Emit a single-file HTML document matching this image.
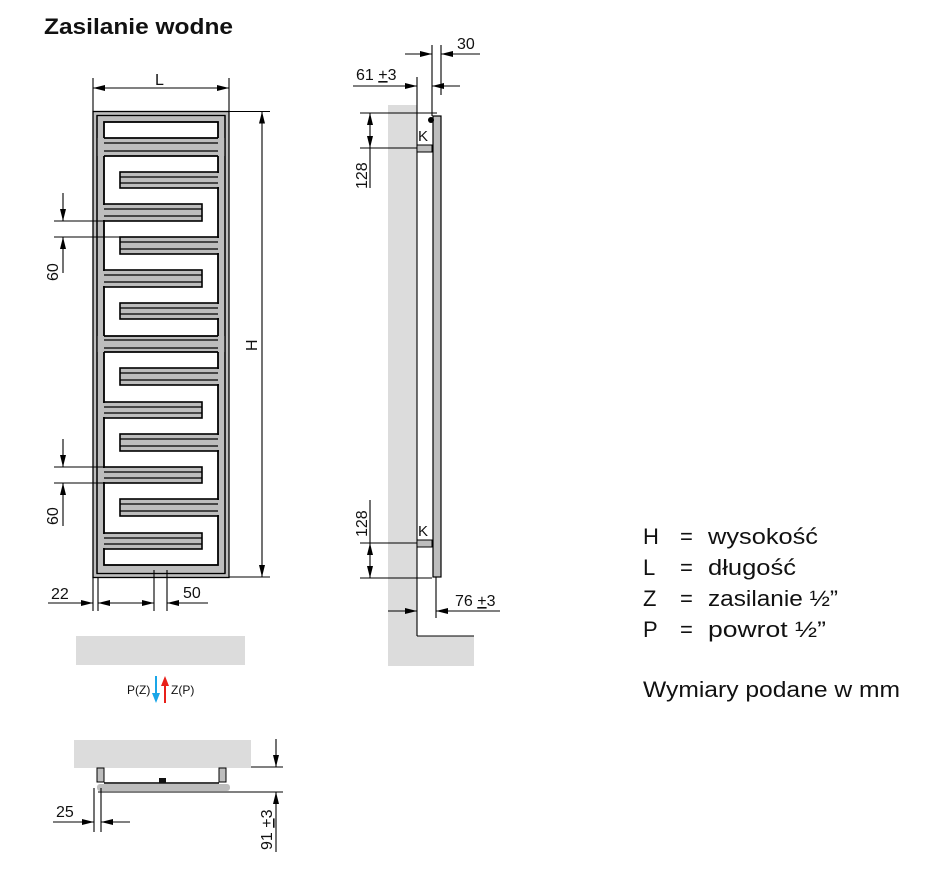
<!DOCTYPE html>
<html><head><meta charset="utf-8"><style>
body{margin:0;background:#fff;}
svg{display:block;}
text{font-family:"Liberation Sans",Arial,sans-serif;fill:#111;}
</style></head><body>
<svg width="931" height="870" viewBox="0 0 931 870" xmlns="http://www.w3.org/2000/svg">
<defs>
<marker id="a" viewBox="0 0 12 6" refX="12" refY="3" markerWidth="12" markerHeight="6" markerUnits="userSpaceOnUse" orient="auto"><path d="M0,0 L12,3 L0,6 z" fill="#000"/></marker>
</defs>
<text x="44" y="34" font-size="22" font-weight="bold" textLength="189" lengthAdjust="spacingAndGlyphs">Zasilanie wodne</text>

<g stroke="#000" stroke-width="1.3">
<rect x="93" y="111.5" width="136" height="466" fill="#bdbdbd"/>
<rect x="97" y="115.5" width="128" height="458" fill="none"/>
<rect x="104" y="122" width="114" height="443" fill="#fff" stroke-width="1.8"/>
<rect x="97" y="138" width="128" height="18" fill="#bdbdbd" stroke="none"/>
<line x1="104" y1="138" x2="218" y2="138" stroke-width="1.8"/>
<line x1="104" y1="143" x2="218" y2="143"/>
<line x1="104" y1="151" x2="218" y2="151"/>
<line x1="104" y1="156" x2="218" y2="156" stroke-width="1.8"/>
<rect x="97" y="336" width="128" height="16" fill="#bdbdbd" stroke="none"/>
<line x1="104" y1="336" x2="218" y2="336" stroke-width="1.8"/>
<line x1="104" y1="340" x2="218" y2="340"/>
<line x1="104" y1="348" x2="218" y2="348"/>
<line x1="104" y1="352" x2="218" y2="352" stroke-width="1.8"/>
<line x1="97" y1="115.5" x2="97" y2="573.5"/>
<line x1="225" y1="115.5" x2="225" y2="573.5"/>
</g>
<g stroke="#000" stroke-width="1.6" fill="#bdbdbd">
<rect x="120" y="172" width="98" height="16"/>
<rect x="120" y="237" width="98" height="17"/>
<rect x="120" y="303" width="98" height="16"/>
<rect x="120" y="368" width="98" height="17"/>
<rect x="120" y="434" width="98" height="17"/>
<rect x="120" y="499" width="98" height="17"/>
<rect x="104" y="204" width="98" height="17"/>
<rect x="104" y="270" width="98" height="17"/>
<rect x="104" y="402" width="98" height="16"/>
<rect x="104" y="467" width="98" height="16"/>
<rect x="104" y="533" width="98" height="16"/>
</g>
<g fill="#bdbdbd">
<rect x="217" y="173" width="3" height="14"/><rect x="217" y="238" width="3" height="15"/><rect x="217" y="304" width="3" height="14"/><rect x="217" y="369" width="3" height="15"/><rect x="217" y="435" width="3" height="15"/><rect x="217" y="500" width="3" height="15"/>
<rect x="102" y="205" width="3" height="15"/><rect x="102" y="271" width="3" height="15"/><rect x="102" y="403" width="3" height="14"/><rect x="102" y="468" width="3" height="14"/><rect x="102" y="534" width="3" height="14"/>
</g>
<g stroke="#000" stroke-width="1.2">
<line x1="120" y1="177" x2="218" y2="177"/><line x1="120" y1="183" x2="218" y2="183"/>
<line x1="120" y1="242" x2="218" y2="242"/><line x1="120" y1="249" x2="218" y2="249"/>
<line x1="120" y1="308" x2="218" y2="308"/><line x1="120" y1="314" x2="218" y2="314"/>
<line x1="120" y1="373" x2="218" y2="373"/><line x1="120" y1="380" x2="218" y2="380"/>
<line x1="120" y1="439" x2="218" y2="439"/><line x1="120" y1="446" x2="218" y2="446"/>
<line x1="120" y1="504" x2="218" y2="504"/><line x1="120" y1="511" x2="218" y2="511"/>
<line x1="104" y1="209" x2="202" y2="209"/><line x1="104" y1="216" x2="202" y2="216"/>
<line x1="104" y1="275" x2="202" y2="275"/><line x1="104" y1="282" x2="202" y2="282"/>
<line x1="104" y1="407" x2="202" y2="407"/><line x1="104" y1="413" x2="202" y2="413"/>
<line x1="104" y1="472" x2="202" y2="472"/><line x1="104" y1="478" x2="202" y2="478"/>
<line x1="104" y1="538" x2="202" y2="538"/><line x1="104" y1="544" x2="202" y2="544"/>
</g>

<g stroke="#000" stroke-width="1.1" fill="none">
<line x1="93" y1="78" x2="93" y2="111"/><line x1="229" y1="78" x2="229" y2="111"/>
<line x1="160" y1="88" x2="93" y2="88" marker-end="url(#a)"/><line x1="160" y1="88" x2="229" y2="88" marker-end="url(#a)"/>
<line x1="229" y1="111.5" x2="270" y2="111.5"/><line x1="229" y1="577" x2="270" y2="577"/>
<line x1="262" y1="340" x2="262" y2="111.5" marker-end="url(#a)"/><line x1="262" y1="340" x2="262" y2="577" marker-end="url(#a)"/>
<line x1="54" y1="221" x2="104" y2="221"/><line x1="54" y1="237" x2="120" y2="237"/>
<line x1="63" y1="193" x2="63" y2="221" marker-end="url(#a)"/><line x1="63" y1="273" x2="63" y2="237" marker-end="url(#a)"/>
<line x1="54" y1="467" x2="104" y2="467"/><line x1="54" y1="483" x2="104" y2="483"/>
<line x1="63" y1="439" x2="63" y2="467" marker-end="url(#a)"/><line x1="63" y1="526" x2="63" y2="483" marker-end="url(#a)"/>
<line x1="93" y1="570" x2="93" y2="611"/><line x1="98" y1="577" x2="98" y2="611"/>
<line x1="154" y1="570" x2="154" y2="611"/><line x1="167" y1="570" x2="167" y2="611"/>
<line x1="48" y1="603" x2="93" y2="603" marker-end="url(#a)"/><line x1="125" y1="603" x2="98" y2="603" marker-end="url(#a)"/>
<line x1="110" y1="603" x2="154" y2="603" marker-end="url(#a)"/><line x1="208" y1="603" x2="167" y2="603" marker-end="url(#a)"/>
</g>
<text x="155" y="85" font-size="16">L</text>
<text x="0" y="0" font-size="16" transform="translate(257,351) rotate(-90)">H</text>
<text x="0" y="0" font-size="16" transform="translate(58,281) rotate(-90)">60</text>
<text x="0" y="0" font-size="16" transform="translate(58,525) rotate(-90)">60</text>
<text x="51" y="599" font-size="16">22</text>
<text x="183" y="598" font-size="16">50</text>

<rect x="76" y="636" width="169" height="29" fill="#dcdcdc"/>
<text x="127" y="694" font-size="12">P(Z)</text>
<text x="171" y="694" font-size="12">Z(P)</text>
<line x1="156" y1="676" x2="156" y2="696" stroke="#1aa6e8" stroke-width="2"/>
<path d="M152,693 L156,703 L160,693 z" fill="#1aa6e8"/>
<line x1="165" y1="684" x2="165" y2="703" stroke="#e8201a" stroke-width="2"/>
<path d="M161,686 L165,676 L169,686 z" fill="#e8201a"/>

<rect x="74" y="740" width="177" height="28" fill="#dcdcdc"/>
<g stroke="#000" stroke-width="1">
<rect x="97" y="768" width="7" height="14" fill="#bdbdbd"/>
<rect x="219" y="768" width="7" height="14" fill="#bdbdbd"/>
<line x1="104" y1="783" x2="219" y2="783" stroke-width="1.4"/>
</g>
<rect x="159" y="778" width="7" height="5" fill="#111"/>
<rect x="97" y="784" width="133" height="7" rx="3" fill="#bdbdbd"/>
<g stroke="#000" stroke-width="1.1">
<line x1="251" y1="767" x2="283" y2="767"/><line x1="98" y1="792" x2="283" y2="792"/>
<line x1="276" y1="739" x2="276" y2="767" marker-end="url(#a)"/><line x1="276" y1="852" x2="276" y2="792" marker-end="url(#a)"/>
<line x1="94" y1="788" x2="94" y2="832"/><line x1="101" y1="788" x2="101" y2="832"/>
<line x1="53" y1="822" x2="94" y2="822" marker-end="url(#a)"/><line x1="130" y1="822" x2="101" y2="822" marker-end="url(#a)"/>
</g>
<text x="56" y="817" font-size="16">25</text>
<text x="0" y="0" font-size="16" transform="translate(272,850) rotate(-90)">91 <tspan text-decoration="underline">+</tspan>3</text>

<path d="M388,105 L417,105 L417,636 L474,636 L474,666 L388,666 z" fill="#dcdcdc"/>
<g stroke="#000" stroke-width="1.1" fill="none">
<line x1="417" y1="77" x2="417" y2="636"/><line x1="417" y1="636" x2="474" y2="636"/>
<line x1="432" y1="45" x2="432" y2="116"/><line x1="441" y1="45" x2="441" y2="95"/>
<line x1="405" y1="54" x2="432" y2="54" marker-end="url(#a)"/><line x1="480" y1="54" x2="441" y2="54" marker-end="url(#a)"/>
<line x1="353" y1="86" x2="417" y2="86" marker-end="url(#a)"/><line x1="460" y1="86" x2="432" y2="86" marker-end="url(#a)"/>
<line x1="360" y1="113" x2="437" y2="113"/><line x1="360" y1="148" x2="418" y2="148"/>
<line x1="370" y1="131" x2="370" y2="113" marker-end="url(#a)"/><line x1="370" y1="131" x2="370" y2="148" marker-end="url(#a)"/>
<line x1="370" y1="148" x2="370" y2="188"/>
<line x1="360" y1="543" x2="418" y2="543"/><line x1="360" y1="578" x2="432" y2="578"/>
<line x1="370" y1="500" x2="370" y2="543"/>
<line x1="370" y1="561" x2="370" y2="543" marker-end="url(#a)"/><line x1="370" y1="561" x2="370" y2="578" marker-end="url(#a)"/>
<line x1="436" y1="577" x2="436" y2="618"/>
<line x1="388" y1="611" x2="417" y2="611" marker-end="url(#a)"/><line x1="500" y1="611" x2="436" y2="611" marker-end="url(#a)"/>
</g>
<rect x="433" y="116" width="8" height="461" fill="#bdbdbd" stroke="#000" stroke-width="1.2"/>
<circle cx="431" cy="120" r="3" fill="#000"/>
<rect x="417" y="145" width="15" height="7" fill="#bdbdbd" stroke="#000" stroke-width="1"/>
<rect x="417" y="540" width="15" height="7" fill="#bdbdbd" stroke="#000" stroke-width="1"/>
<text x="418" y="141" font-size="15">K</text>
<text x="418" y="536" font-size="15">K</text>
<text x="457" y="49" font-size="16">30</text>
<text x="356" y="80" font-size="16">61 <tspan text-decoration="underline">+</tspan>3</text>
<text x="0" y="0" font-size="16" transform="translate(367,189) rotate(-90)">128</text>
<text x="0" y="0" font-size="16" transform="translate(367,537) rotate(-90)">128</text>
<text x="455" y="606" font-size="16">76 <tspan text-decoration="underline">+</tspan>3</text>

<g font-size="22">
<text x="643" y="544">H</text><text x="680" y="544">=</text><text x="708" y="544" textLength="110" lengthAdjust="spacingAndGlyphs">wysokość</text>
<text x="643" y="575">L</text><text x="680" y="575">=</text><text x="708" y="575" textLength="88" lengthAdjust="spacingAndGlyphs">długość</text>
<text x="643" y="606">Z</text><text x="680" y="606">=</text><text x="708" y="606" textLength="130" lengthAdjust="spacingAndGlyphs">zasilanie ½”</text>
<text x="643" y="637">P</text><text x="680" y="637">=</text><text x="708" y="637" textLength="118" lengthAdjust="spacingAndGlyphs">powrot ½”</text>
<text x="643" y="697" textLength="257" lengthAdjust="spacingAndGlyphs">Wymiary podane w mm</text>
</g>
</svg>
</body></html>
